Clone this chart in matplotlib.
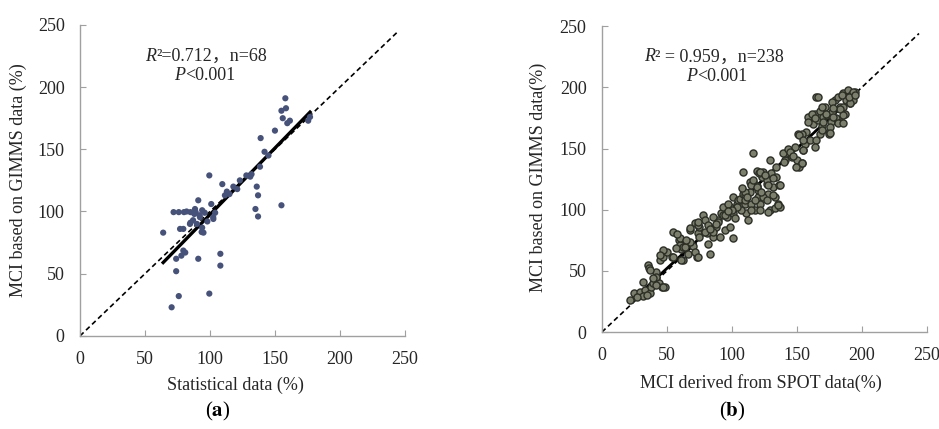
import matplotlib
matplotlib.use("Agg")
import matplotlib.pyplot as plt
import numpy as np

# ── data: panel (a) statistical vs GIMMS ───────────────────────── #
stat_x = [64, 70.5, 74, 76, 77, 72, 76, 80, 85, 89, 74, 78, 81, 91, 91, 88, 92,
          90, 94, 95, 87, 94, 85, 99.5, 99.5, 101, 102.5, 108, 108, 109.5, 111.5,
          128, 132, 136, 137, 135, 137, 138.5, 139, 142, 145, 150, 155, 155, 156,
          158, 158.5, 159.5, 161.5, 175.6, 177, 118, 123, 115, 131, 88.5, 92.3,
          102.6, 93.6, 84.6, 79.5, 79.5, 82, 96, 98, 104, 113, 121]
gimms_a = [83, 23, 52, 32, 86, 99.5, 99.5, 99.5, 99.5, 99.5, 62, 64.5, 67, 109, 62,
           98, 97, 90, 87, 83, 93, 101, 91, 129, 34, 106, 95.4, 66, 56.5, 122, 113,
           129, 130, 120, 113, 102, 96, 136, 159, 148, 145, 165, 105, 181, 175,
           191, 183, 171, 173, 173, 176, 120, 125, 114, 128, 102, 95.4, 94, 83.5,
           90, 86, 68.6, 100, 99, 92, 99, 116, 118]
fit_a = [1.07, -9.5]          # slope, intercept

# ── data: panel (b) SPOT vs GIMMS ──────────────────────────────── #
spot_x = [
    25, 29, 33, 35.6, 36.4, 37, 38, 42, 44, 46, 48.5, 44.6, 47, 50, 42, 39.5, 32, 26.7,
    47, 44.6, 53.6, 37, 42, 47, 42, 39.5, 34.4, 21.5, 31.8,
    55, 55, 59, 60, 62.6, 61, 67.7, 70, 73, 71.5, 74, 75, 78, 79, 80.5, 82, 85.6, 85.6,
    88, 89.5, 91, 94.6, 92, 96, 98.5, 101, 103.6, 98.5, 101, 83, 66,
    60, 67.7, 74, 79, 62.6, 57.4, 67.7, 71.5, 61, 74,
    81.8, 85.6, 89.5, 74, 75, 85.6, 93, 102.6, 63.8, 93, 97, 101, 105,
    106, 108.7, 111, 112.6, 108.7, 116, 114, 116, 119, 120, 121.5, 123, 124, 126.7,
    128, 129, 130.5, 132, 133, 129, 133, 135.6, 136.4, 134, 137, 119, 114, 110, 115, 118,
    121, 126.7, 115, 120, 124, 110, 107, 115, 121.5, 128,
    134, 121.5, 125.4, 116.4, 131.8, 119, 127.7, 136.7, 110, 122.8, 131.8, 110, 117.7,
    126.7, 135.6, 140.8, 141.9,
    139.5, 143, 146, 150, 152, 153.6, 151, 155, 156, 157.4, 158.7, 160, 162.6, 164, 165,
    166, 167.7, 169, 170, 171.5, 173, 175, 176, 177.4, 179, 180.5, 182, 183, 184, 185.6,
    187, 188, 189.5, 191, 192, 193, 194.6, 185.6,
    153.6, 168, 174.6, 165, 155, 148.5, 153.6, 149.7,
    166.4, 184.4, 193, 176.7, 190.8, 169, 183, 161.3, 172.8, 163.8, 178, 185.6, 158.7,
    170, 181.4, 175.4, 185.6, 169, 152, 175.4, 154.9, 163.8,
    88, 95, 104, 112, 140, 145, 190, 195, 100, 97, 83, 58, 65, 108, 147, 178]
gimms_b = [
    31.6, 33, 34, 54.7, 52, 31.6, 37, 44, 40, 37, 37, 59, 61.5, 65.6, 49, 40, 29.4, 29,
    67, 62.9, 61.5, 50.6, 45.2, 36.9, 38.3, 43.8, 30.2, 26.1, 41,
    82, 61.5, 75, 71, 59, 68, 83, 70, 61.5, 89, 80.6, 86, 95.6, 91.5, 80.6, 72, 83, 78,
    86, 91.5, 78, 83, 97, 94, 102, 97, 105, 86, 76.5, 64, 64,
    76.5, 84.7, 87.4, 81.9, 69.7, 68.4, 73.8, 65.6, 58.8, 61.5,
    87.4, 94, 90, 90, 78, 82, 95.6, 93, 69.7, 102, 105, 110.6, 108,
    109, 113, 97, 91.5, 131, 146, 114.6, 123, 119, 110.6, 105, 127, 131, 121,
    113, 140.5, 129.6, 118.7, 110.6, 99.7, 101, 105, 120, 127, 102, 132, 123, 105, 105, 99.7,
    130, 124, 120, 116, 110.6, 112, 99.7, 99.7, 99.7, 98.3,
    135, 131, 128.3, 124, 125.6, 118.7, 120, 120, 114.6, 114.6, 111.9, 107.9, 107.9,
    107.9, 103.8, 140.5, 146,
    146, 150, 143, 140.5, 135, 138, 162, 149, 154, 163.7, 176, 157, 170, 178.6, 192,
    173, 181, 168, 176, 184, 177, 163.7, 172, 180, 189.5, 174.6, 192, 184, 172, 195,
    178.6, 189.5, 197.7, 186.8, 193.6, 189.5, 196, 184,
    162, 162, 162, 157, 148.7, 151, 137.8, 135,
    192.2, 193.6, 196.3, 188.2, 186.8, 184, 182.7, 178.6, 178.6, 174.6, 175.9, 177.3, 171.8,
    171.8, 170.5, 167.7, 170.5, 165, 161, 162.3, 157, 151.5,
    88, 96, 102, 110, 139, 147, 192, 194, 100, 99, 84, 80, 75, 118, 144, 183]
fit_b = [0.98, 3.0]

ticks = [0, 50, 100, 150, 200, 250]
one_to_one = [0, 244]

# ── style ─────────────────────────────────────────────────────── #
SERIF = ["Liberation Serif", "Noto Sans CJK SC"]
TXT = "#262626"
SPINE = "#a0a0a0"
FS = 13
plt.rcParams["font.family"] = SERIF
plt.rcParams["mathtext.fontset"] = "stix"

fig = plt.figure(figsize=(9.39, 4.29), dpi=100, facecolor="white")


def style_axes(ax, xlabel, ylabel, xl_pos, yl_pos):
    ax.set_xlim(0, 250)
    ax.set_ylim(0, 250)
    ax.set_xticks(ticks)
    ax.set_yticks(ticks)
    for side in ("top", "right"):
        ax.spines[side].set_visible(False)
    for side in ("left", "bottom"):
        ax.spines[side].set_color(SPINE)
        ax.spines[side].set_linewidth(1.0)
    ax.tick_params(direction="in", length=4, width=0.8, color=SPINE,
                   labelsize=FS, labelcolor=TXT, pad=11)
    ax.set_xlabel(xlabel, fontsize=FS, color=TXT, va="center")
    ax.set_ylabel(ylabel, fontsize=FS, color=TXT, va="center")
    ax.xaxis.set_label_coords(*xl_pos)
    ax.yaxis.set_label_coords(*yl_pos)


def stats_text(ax, x, y, r2_rest, p_x, p_y):
    r = ax.text(x, y, "R", fontsize=FS, color=TXT, style="italic",
                transform=ax.transAxes, va="baseline")
    ax.annotate(r2_rest, xy=(1, 0), xycoords=r, fontsize=FS, color=TXT,
                va="bottom", family=SERIF)
    p = ax.text(p_x, p_y, "P", fontsize=FS, color=TXT, style="italic",
                transform=ax.transAxes, va="baseline")
    ax.annotate("<0.001", xy=(1, 0), xycoords=p, fontsize=FS, color=TXT,
                va="bottom")


# ── Panel (a) ─────────────────────────────────────────────────── #
ax_a = fig.add_axes([0.0852, 0.217, 0.346, 0.725])
style_axes(ax_a, "Statistical data (%)", "MCI based on GIMMS data (%)",
           (0.477, -0.158), (-0.19, 0.5))
ax_a.plot(one_to_one, one_to_one, color="black", lw=1.2, ls=(0, (3, 2)), zorder=2)
xa = np.array([min(stat_x), max(stat_x)])
ax_a.plot(xa, fit_a[0] * xa + fit_a[1], color="black", lw=2.4, zorder=3)
ax_a.scatter(stat_x, gimms_a, s=20, color="#46527a", edgecolors="none", zorder=4)
stats_text(ax_a, 0.20, 0.885, "²=0.712，n=68", 0.29, 0.822)

# ── Panel (b) ─────────────────────────────────────────────────── #
ax_b = fig.add_axes([0.641, 0.226, 0.346, 0.713])
style_axes(ax_b, "MCI derived from SPOT data(%)", "MCI based on GIMMS data(%)",
           (0.49, -0.167), (-0.195, 0.506))
ax_b.plot(one_to_one, one_to_one, color="black", lw=1.2, ls=(0, (3, 2)), zorder=2)
xb = np.array([min(spot_x), max(spot_x)])
ax_b.plot(xb, fit_b[0] * xb + fit_b[1], color="black", lw=2.0, zorder=3)
ax_b.scatter(spot_x, gimms_b, s=26, color="#7c7f6c", edgecolors="#2c2f26",
             linewidths=1.0, zorder=4)
stats_text(ax_b, 0.13, 0.885, "² = 0.959，n=238", 0.26, 0.82)

# panel letters
fig.text(0.232, 0.04, r"($\mathbf{a}$)", ha="center", va="center", fontsize=15)
fig.text(0.78, 0.04, r"($\mathbf{b}$)", ha="center", va="center", fontsize=15)

fig.savefig("out.png", dpi=100, facecolor="white")
